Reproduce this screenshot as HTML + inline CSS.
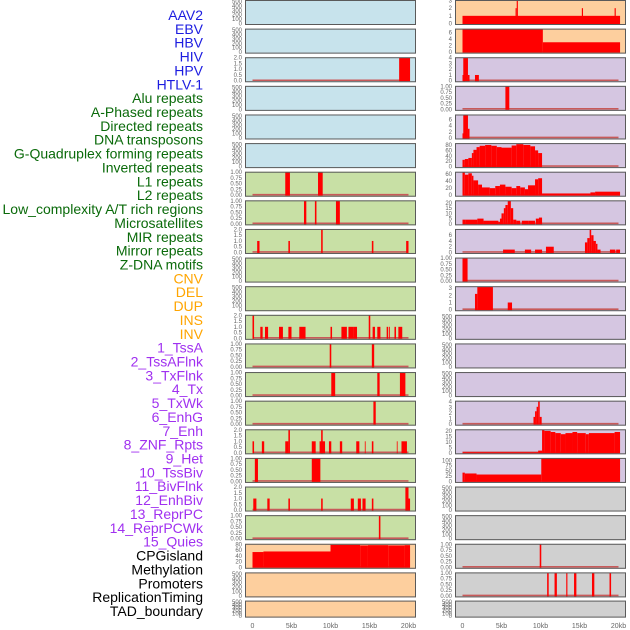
<!DOCTYPE html>
<html><head><meta charset="utf-8">
<style>
body{margin:0;background:#fff;}
svg{display:block;font-family:"Liberation Sans",sans-serif;}
</style></head>
<body>
<svg id="chart" width="630" height="630" viewBox="0 0 630 630" xmlns="http://www.w3.org/2000/svg"></svg>
<script>
// ---------- data ----------
const trackLabels = ["AAV2","EBV","HBV","HIV","HPV","HTLV-1","Alu repeats","A-Phased repeats","Directed repeats","DNA transposons","G-Quadruplex forming repeats","Inverted repeats","L1 repeats","L2 repeats","Low_complexity A/T rich regions","Microsatellites","MIR repeats","Mirror repeats","Z-DNA motifs","CNV","DEL","DUP","INS","INV","1_TssA","2_TssAFlnk","3_TxFlnk","4_Tx","5_TxWk","6_EnhG","7_Enh","8_ZNF_Rpts","9_Het","10_TssBiv","11_BivFlnk","12_EnhBiv","13_ReprPC","14_ReprPCWk","15_Quies","CPGisland","Methylation","Promoters","ReplicationTiming","TAD_boundary"];
const labelGroupCounts = [6,13,5,15,5];
const labelGroupColors = ["#1c1ce0","#0a6a0a","#ffa500","#a030f0","#000000"];
const xTickValues = [0,5,10,15,20];
const xTickLabels = ["0","5kb","10kb","15kb","20kb"];
const E = ["500","400","300","200","100","0"];
const T1 = [1,0.75,0.5,0.25,0];
const T1L = ["1.00","0.75","0.50","0.25","0.00"];
const T2 = [2,1.5,1,0.5,0];
const T2L = ["2.0","1.5","1.0","0.5","0.0"];
const leftBg = ["#c7e3ec","#c7e3ec","#c7e3ec","#c7e3ec","#c7e3ec","#c7e3ec","#c8e0a5","#c8e0a5","#c8e0a5","#c8e0a5","#c8e0a5","#c8e0a5","#c8e0a5","#c8e0a5","#c8e0a5","#c8e0a5","#c8e0a5","#c8e0a5","#c8e0a5","#fdcf9e","#fdcf9e","#fdcf9e"];
const leftYmax = [500,500,2,500,500,500,1,1,2,500,500,2,1,1,1,2,1,2,1,80,500,500];
const leftBars = [
 [],[],
 [[18.8,20.2,2]],
 [],[],[],
 [[4.2,4.8,1],[8.4,9.0,1]],
 [[6.6,6.9,1],[8.0,8.2,1],[10.7,11.2,1]],
 [[0.6,0.9,1],[4.6,4.8,1],[8.8,9.0,2],[15.3,15.5,1],[19.7,20.0,1]],
 [],[],
 [[0,0.2,2],[1.0,1.3,1],[1.6,2.0,1],[3.4,3.9,1],[4.6,5.0,1],[6.0,6.8,1],[10.0,10.2,1],[11.4,12.1,1],[12.3,13.0,1],[13.0,13.4,1],[14.9,15.1,2],[15.4,15.7,1],[16.0,16.4,1],[17.2,17.4,1],[17.5,17.6,1],[18.2,18.4,1],[18.7,19.2,1]],
 [[9.9,10.1,1],[15.3,15.6,1]],
 [[10.1,10.6,1],[16.0,16.3,1],[18.9,19.6,1]],
 [[15.5,15.8,1]],
 [[0,0.2,1],[1.2,1.5,1],[4.2,4.6,1],[4.6,4.8,2],[7.6,8.1,1],[8.8,9.0,2],[8.6,9.3,1],[9.8,10.1,1],[11.2,11.5,1],[13.3,13.7,1],[14.4,14.5,1],[15.3,15.5,1],[18.5,18.6,1],[19.1,19.8,1]],
 [[0.3,0.7,1],[7.6,8.7,1]],
 [[0.1,0.5,1],[1.9,2.2,1],[4.6,4.8,1],[8.8,9.0,1],[12.6,13.0,1],[13.5,13.9,1],[14.1,14.5,1],[15.3,15.5,1],[19.6,20.0,2],[20.0,20.2,1]],
 [[16.2,16.4,1]],
 [[0,1.4,53],[1.4,10.0,55],[10.0,13.8,78],[13.8,14.8,76],[14.8,17.4,77],[17.4,19.5,76],[19.5,20.2,77]],
 [],[]
];
const rightBg = ["#fdcf9e","#fdcf9e","#d5c6e1","#d5c6e1","#d5c6e1","#d5c6e1","#d5c6e1","#d5c6e1","#d5c6e1","#d5c6e1","#d5c6e1","#d5c6e1","#d5c6e1","#d5c6e1","#d5c6e1","#d5c6e1","#d5c6e1","#d0d0d0","#d0d0d0","#d0d0d0","#d0d0d0","#d0d0d0"];
const rightYmax = [3,7,4,1,7.5,85,65,22,8,1,3.2,500,500,500,4.1,21,110,500,500,1,1,500];
const rightBars = [
 [[0,20.2,1],[6.8,6.95,2],[6.95,7.1,3],[15.3,15.45,2],[19.5,19.65,2]],
 [[0,10.3,7],[10.3,20.2,3]],
 [[0,0.3,1],[0.1,0.7,4],[0.7,0.9,1],[1.6,2.1,1]],
 [[5.5,6.0,1]],
 [[0,0.15,1.5],[0.1,0.7,7.5],[0.7,0.9,3]],
 [[0,0.3,25],[0.3,0.75,28],[0.75,1.2,32],[1.2,1.4,50],[1.4,1.8,62],[1.8,2.2,72],[2.2,2.9,77],[2.9,3.7,80],[3.7,4.4,77],[4.4,5.0,72],[5.0,6.3,70],[6.3,6.9,78],[6.9,7.8,83],[7.8,8.7,80],[8.7,9.3,75],[9.3,9.7,60],[9.7,10.2,50]],
 [[0,0.3,65],[0.3,0.75,58],[0.75,1.2,62],[1.2,1.4,55],[1.4,2.0,42],[2.0,2.5,30],[2.5,3.5,22],[3.5,4.2,20],[4.2,4.8,26],[4.8,5.5,30],[5.5,6.3,24],[6.3,6.9,20],[6.9,7.4,26],[7.4,8.0,22],[8.0,8.4,17],[8.4,9.3,28],[9.3,9.7,45],[9.7,10.2,48],[10.2,16.4,5],[16.4,17.0,8],[17.0,20.2,10]],
 [[0,0.4,4],[0.4,1.9,4],[1.9,2.7,5],[2.7,3.4,3],[3.4,4.6,3],[4.6,4.8,2],[4.8,5.0,5],[5.0,5.3,10],[5.3,5.5,15],[5.5,5.8,18],[5.8,6.2,22],[6.2,6.5,15],[6.5,6.9,4],[6.9,7.4,3],[7.6,8.5,3],[8.5,9.3,3],[9.4,9.8,5],[9.8,10.2,6]],
 [[5.2,6.7,1],[8.0,8.8,1],[9.3,10.2,1],[10.7,11.7,2],[15.7,16.0,3.5],[16.0,16.3,5],[16.3,16.5,8],[16.5,16.8,6],[16.8,17.1,4],[17.1,17.3,3],[17.3,17.7,1],[18.9,19.6,1],[19.7,20.2,1]],
 [[0,0.65,1]],
 [[1.6,1.9,2.2],[1.9,3.9,3.2],[5.8,6.35,1]],
 [],[],[],
 [[9.1,9.3,1.3],[9.3,9.5,2.3],[9.5,9.7,3.1],[9.7,9.9,4.1],[9.9,10.15,1.3]],
 [[0,9.7,0.5],[9.7,10.2,2],[10.2,10.5,21],[10.5,11.3,20],[11.3,11.9,19],[11.9,12.6,18],[12.6,13.2,17],[13.2,14.1,18],[14.1,14.7,19],[14.7,15.8,18],[15.8,16.2,17],[16.2,19.5,18],[19.5,20.2,19]],
 [[0,0.3,42],[0.3,1.8,38],[1.8,10.1,33],[10.1,20.2,110]],
 [],[],
 [[9.9,10.1,1]],
 [[10.85,11.05,1],[11.8,12.1,1],[13.3,13.45,1],[14.3,14.6,1],[16.6,16.9,1],[18.85,19.05,1]],
 []
];
const rightTickVals = [[3,2,1,0],[6,4,2,0],[4,3,2,1,0],T1,[6,4,2,0],[80,60,40,20,0],[60,40,20,0],[20,15,10,5,0],[6,4,2,0],T1,[3,2,1,0],null,null,null,[4,3,2,1,0],[20,15,10,5,0],[100,75,50,25,0],null,null,T1,T1,null];
const rightTickLabs = [["3","2","1","0"],["6","4","2","0"],["4","3","2","1","0"],T1L,["6","4","2","0"],["80","60","40","20","0"],["60","40","20","0"],["20","15","10","5","0"],["6","4","2","0"],T1L,["3","2","1","0"],E,E,E,["4","3","2","1","0"],["20","15","10","5","0"],["100","75","50","25","0"],E,E,T1L,T1L,E];
const leftTickVals = [null,null,T2,null,null,null,T1,T1,T2,null,null,T2,T1,T1,T1,T2,T1,T2,T1,[80,60,40,20,0],null,null];
const leftTickLabs = [E,E,T2L,E,E,E,T1L,T1L,T2L,E,E,T2L,T1L,T1L,T1L,T2L,T1L,T2L,T1L,["80","60","40","20","0"],E,E];

// ---------- drawing ----------
const NS = "http://www.w3.org/2000/svg";
const svg = document.getElementById("chart");
function mk(tag, attrs, parent){const e=document.createElementNS(NS,tag);for(const k in attrs)e.setAttribute(k,attrs[k]);(parent||svg).appendChild(e);return e;}
function rowTop(i){return i<21? i*28.62 : 600.6;}
function rowH(i){return i<21? 25 : 17;}
const cols = [{x0:245,x1:416,k0:252.5,bg:leftBg,ym:leftYmax,bars:leftBars,tv:leftTickVals,tl:leftTickLabs,name:"left"},
              {x0:455,x1:626,k0:462.5,bg:rightBg,ym:rightYmax,bars:rightBars,tv:rightTickVals,tl:rightTickLabs,name:"right"}];
function xScale(col,kb){return col.k0 + kb*7.8;}

let li=0;
labelGroupCounts.forEach((n,g)=>{
  for(let j=0;j<n;j++){
    const t=mk("text",{x:203,y:15+li*13.86+5,"text-anchor":"end","font-size":"14",fill:labelGroupColors[g]});
    t.textContent=trackLabels[li];
    
    
    li++;
  }
});

cols.forEach(col=>{
  for(let i=0;i<22;i++){
    const top=rowTop(i), h=rowH(i), bot=top+h-1.5;
    const g=mk("g",{});
    
    
    mk("rect",{x:col.x0,y:top,width:col.x1-col.x0,height:h,fill:col.bg[i]},g);
    const ymax=col.ym[i];
    const yS=v=>bot-(v/ymax)*(bot-top-0.5);
    const bars=col.bars[i];
    if(bars.length){
      const bl=mk("line",{x1:xScale(col,0),x2:xScale(col,20),y1:bot-0.5,y2:bot-0.5,stroke:"#c85a5a","stroke-width":"1.6"},g);
      
      
      bars.forEach(b=>{
        const x=xScale(col,b[0]), w=Math.max(0.8,xScale(col,b[1])-x);
        const y=yS(Math.min(b[2],ymax));
        const r=mk("rect",{x:x,y:y,width:w,height:bot-y+0.5,fill:"#ff0000"},g);
        
        
      });
    }
    mk("rect",{x:col.x0+0.5,y:top+0.5,width:col.x1-col.x0-1,height:h-1,fill:"none",stroke:"#5a5a5a","stroke-width":"1"},g);
    const labs=col.tl[i]; const vals=col.tv[i];
    labs.forEach((lab,k)=>{
      let y;
      if(vals) y=yS(vals[k]); else y=top+1.5+k*(h-3)/(labs.length-1);
      const t=mk("text",{x:col.x0-3,y:y+2,"text-anchor":"end","font-size":"6",fill:"#666"},g);
      t.textContent=lab;
      
      
    });
  }
  xTickValues.forEach((v,k)=>{
    const t=mk("text",{x:xScale(col,v),y:628,"text-anchor":"middle","font-size":"7",fill:"#666"});
    t.textContent=xTickLabels[k];
    
    
  });
});
</script>
</body></html>
